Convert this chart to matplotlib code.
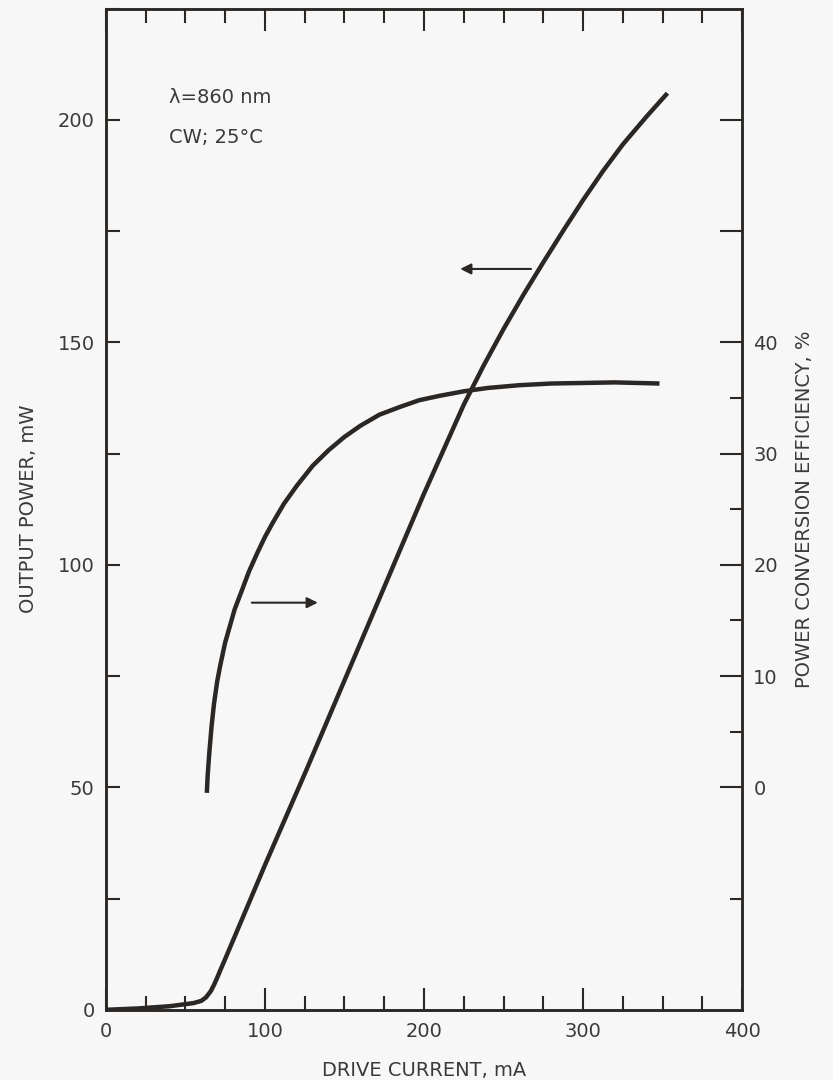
import matplotlib
matplotlib.use('Agg')
import matplotlib.pyplot as plt
from matplotlib.ticker import FixedLocator, FixedFormatter, MultipleLocator

# output power curve (left axis, mW) vs drive current (mA)
current_p = [0, 20, 40, 55, 60, 63, 66, 68, 70, 72, 75, 80, 100, 125, 150, 175, 200, 215,
             225, 237.5, 250, 262.5, 275, 287.5, 300, 312.5, 325, 340, 353]
power_mw = [0, 0.3, 0.8, 1.5, 2.0, 2.8, 4.2, 5.6, 7.2, 8.9, 11.4, 15.6, 32.5, 53, 74, 95, 116, 128,
            136, 144.8, 153, 160.7, 168, 175.1, 182, 188.5, 194.5, 200.8, 206]

# power conversion efficiency curve (right axis, %)
current_e = [63.5, 64, 65, 66.5, 68, 70, 72, 75, 78, 81, 85, 90, 95, 100, 105, 112, 120, 130,
             140, 150, 160, 172, 185, 197, 210, 225, 240, 260, 280, 320, 348]
efficiency = [-0.5, 1, 3, 5.5, 7.5, 9.5, 11, 13, 14.5, 16, 17.5, 19.4, 21, 22.5, 23.8, 25.5, 27.1, 28.9,
              30.3, 31.5, 32.5, 33.5, 34.2, 34.8, 35.2, 35.6, 35.9, 36.15, 36.3, 36.4, 36.3]

eff_major = [0, 10, 20, 30, 40, 50, 60]
eff_labels = ['0', '10', '20', '30', '40', '', '']
eff_minor = [-10, 5, 15, 25, 35]

ink = '#2b2725'
txt = '#3a3a3a'
plt.rcParams['font.family'] = ['DejaVu Sans']

fig = plt.figure(figsize=(8.33, 10.8), dpi=100, facecolor='#f7f7f7')
ax = fig.add_axes([0.127, 0.065, 0.764, 0.927])
ax.set_facecolor('#f7f7f7')
ax2 = ax.twinx()

ax.plot(current_p, power_mw, color=ink, lw=3.2, solid_capstyle='butt', solid_joinstyle='round')
ax2.plot(current_e, efficiency, color=ink, lw=3.2, solid_capstyle='butt', solid_joinstyle='round')

ax.set_xlim(0, 400)
ax.set_ylim(0, 225)
# efficiency axis: 0 % sits at 50 mW, 10 % per 25 mW
ax2.set_ylim((0 - 50) / 2.5, (225 - 50) / 2.5)

ax.xaxis.set_major_locator(MultipleLocator(100))
ax.xaxis.set_minor_locator(MultipleLocator(25))
ax.yaxis.set_major_locator(MultipleLocator(50))
ax.yaxis.set_minor_locator(MultipleLocator(25))
ax.tick_params(axis='x', which='both', direction='in', top=True, colors=ink,
               labelcolor=txt, labelsize=14, pad=9)
ax.tick_params(axis='x', which='major', length=16, width=1.5)
ax.tick_params(axis='x', which='minor', length=10, width=1.5)
ax.tick_params(axis='y', which='both', direction='in', length=10, width=1.5,
               colors=ink, labelcolor=txt, labelsize=14, pad=8)

ax2.yaxis.set_major_locator(FixedLocator(eff_major))
ax2.yaxis.set_major_formatter(FixedFormatter(eff_labels))
ax2.yaxis.set_minor_locator(FixedLocator(eff_minor))
ax2.tick_params(axis='y', which='both', direction='in', width=1.5, colors=ink,
                labelcolor=txt, labelsize=14, pad=8)
ax2.tick_params(axis='y', which='major', length=16)
ax2.tick_params(axis='y', which='minor', length=9)

for a in (ax, ax2):
    for s in a.spines.values():
        s.set_linewidth(1.8)
        s.set_color(ink)

ax.set_xlabel('DRIVE CURRENT, mA', fontsize=14, color=txt, labelpad=14)
ax.set_ylabel('OUTPUT POWER, mW', fontsize=14, color=txt, labelpad=14)
ax2.set_ylabel('POWER CONVERSION EFFICIENCY, %', fontsize=14, color=txt, labelpad=12)

ax.text(40, 205, 'λ=860 nm', fontsize=14, color=txt, va='center')
ax.text(40, 196, 'CW; 25°C', fontsize=14, color=txt, va='center')

arrow = dict(arrowstyle='-|>', color=ink, lw=1.5, mutation_scale=16)
ax.annotate('', xy=(221, 166.5), xytext=(269, 166.5), arrowprops=arrow)
ax.annotate('', xy=(135, 91.5), xytext=(90, 91.5), arrowprops=arrow)

fig.savefig('out.png', dpi=100, facecolor=fig.get_facecolor())
